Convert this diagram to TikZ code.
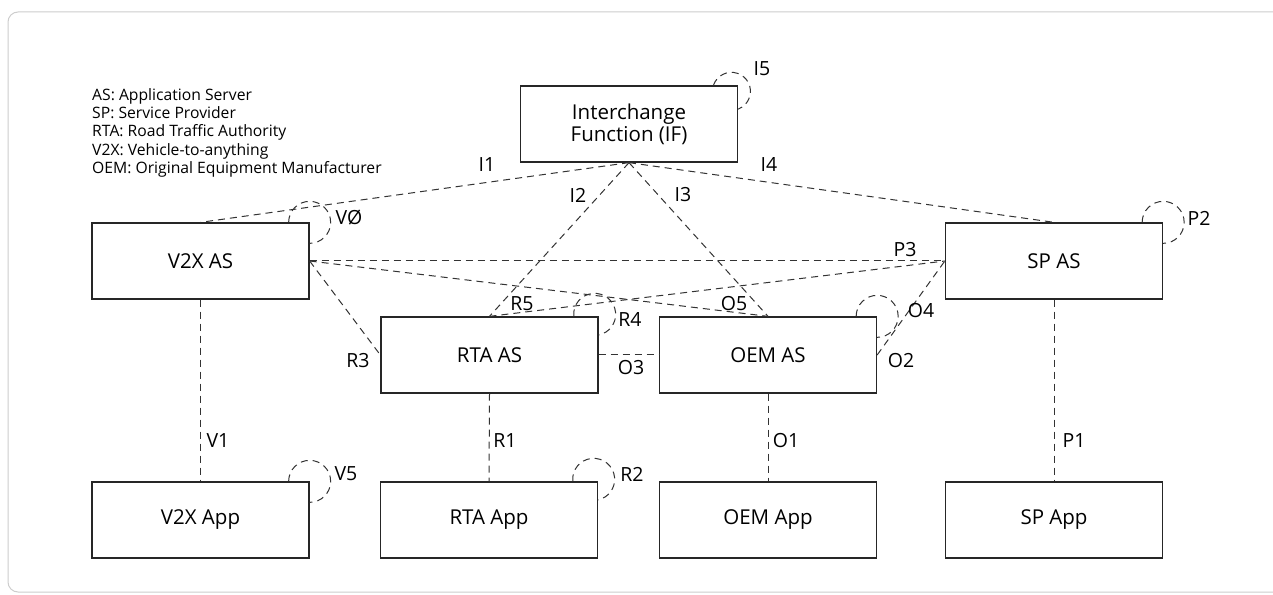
\documentclass[tikz,border=0pt]{standalone}
\usepackage{fontspec}
\setmainfont{Open Sans}
\begin{document}
\begin{tikzpicture}[x=1pt,y=1pt,
  box/.style={draw=black!85, line width=1.3pt, minimum width=217pt, minimum height=76pt, inner sep=0pt, font=\fontsize{20.5}{22}\selectfont, align=center},
  conn/.style={draw=black!80, line width=1pt, dash pattern=on 7pt off 5pt},
  lbl/.style={font=\fontsize{19.5}{22}\selectfont, inner sep=0pt},
  legendtext/.style={font=\fontsize{15.7}{18.4}\selectfont, align=left, inner sep=0pt}]
\useasboundingbox (0,0) rectangle (1273,594);
\draw[draw={rgb,255:red,205;green,205;blue,205}, line width=1pt, rounded corners=10pt] (8,2) rectangle (1290,582);

\node[legendtext, anchor=north west] (legend) at (92,506) {AS: Application Server\\SP: Service Provider\\RTA: Road Traffic Authority\\V2X: Vehicle-to-anything\\OEM: Original Equipment Manufacturer};

\node[box] (IF) at (629,470) {Interchange\\Function (IF)};
\node[box] (V2X) at (200.5,333) {V2X AS};
\node[box] (SP) at (1054,333) {SP AS};
\node[box] (RTA) at (489.5,239) {RTA AS};
\node[box] (OEM) at (768,239) {OEM AS};
\node[box] (V2XApp) at (200.5,74) {V2X App};
\node[box] (RTAApp) at (489,74) {RTA App};
\node[box] (OEMApp) at (768,74) {OEM App};
\node[box] (SPApp) at (1054,74) {SP App};

% connectors
\draw[conn] (IF.south) -- (V2X.north);
\draw[conn] (IF.south) -- (RTA.north);
\draw[conn] (IF.south) -- (OEM.north);
\draw[conn] (IF.south) -- (SP.north);
\draw[conn] (V2X.east) -- (SP.west);
\draw[conn] (V2X.east) -- (OEM.north);
\draw[conn] (V2X.east) -- (RTA.west);
\draw[conn] (RTA.north) -- (SP.west);
\draw[conn] (OEM.east) -- (SP.west);
\draw[conn] (RTA.east) -- (OEM.west);
\draw[conn] (V2X.south) -- (V2XApp.north);
\draw[conn] (RTA.south) -- (RTAApp.north);
\draw[conn] (OEM.south) -- (OEMApp.north);
\draw[conn] (SP.south) -- (SPApp.north);

% self loops
\draw[conn] ([shift={(-6.7,-6)}]IF.north east) ++(161.6:19) arc[start angle=161.6, end angle=-69.4, radius=19];
\draw[conn] ([xshift=-21pt]V2X.north east) arc[start angle=180, end angle=-90, radius=21];
\draw[conn] ([xshift=-21pt]SP.north east) arc[start angle=180, end angle=-90, radius=21];
\draw[conn] ([xshift=-21pt]OEM.north east) arc[start angle=180, end angle=-90, radius=21];
\draw[conn] ([shift={(-4,2)}]RTA.north east) ++(185.5:21) arc[start angle=185.5, end angle=-79, radius=21];
\draw[conn] ([xshift=-21pt]V2XApp.north east) arc[start angle=180, end angle=-90, radius=21];
\draw[conn] ([shift={(-4.5,2)}]RTAApp.north east) ++(185.5:21) arc[start angle=185.5, end angle=-77.6, radius=21];

% labels
\node[lbl] (lI1) at (487,429) {I1};
\node[lbl] (lI2) at (578,399) {I2};
\node[lbl] (lI3) at (683,399) {I3};
\node[lbl] (lI4) at (769,429) {I4};
\node[lbl] (lI5) at (762,525) {I5};
\node[lbl] (lV0) at (349,376) {VØ};
\node[lbl] (lP2) at (1199,376) {P2};
\node[lbl] (lP3) at (905,344) {P3};
\node[lbl] (lR5) at (522,290) {R5};
\node[lbl] (lR4) at (630,274) {R4};
\node[lbl] (lO5) at (734,290) {O5};
\node[lbl] (lO4) at (921,283) {O4};
\node[lbl] (lO2) at (901,233) {O2};
\node[lbl] (lO3) at (631,226) {O3};
\node[lbl] (lR3) at (358,233) {R3};
\node[lbl] (lV1) at (218,153) {V1};
\node[lbl] (lR1) at (505,153) {R1};
\node[lbl] (lO1) at (786,153) {O1};
\node[lbl] (lP1) at (1074,153) {P1};
\node[lbl] (lV5) at (346,120) {V5};
\node[lbl] (lR2) at (632,120) {R2};
\end{tikzpicture}
\end{document}
